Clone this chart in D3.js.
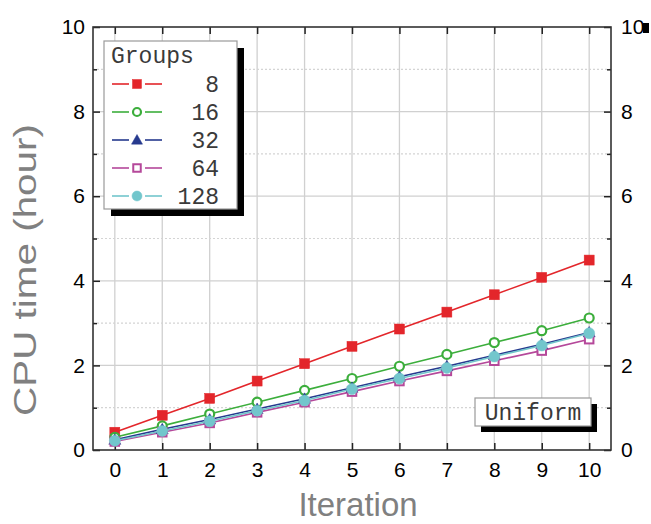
<!DOCTYPE html>
<html>
<head>
  <meta charset="utf-8">
  <title>CPU time vs iteration</title>
  <script src="https://d3js.org/d3.v7.min.js"></script>
  <style>
    html, body { margin: 0; padding: 0; background: #fff; }
    svg { display: block; }
  </style>
</head>
<body>
  <svg width="651" height="524"></svg>
  <script>
    // chart data
    const iterations = [0, 1, 2, 3, 4, 5, 6, 7, 8, 9, 10];
    const groups = ["8", "16", "32", "64", "128"];
    const cpu8   = [0.42, 0.82, 1.22, 1.63, 2.04, 2.45, 2.86, 3.26, 3.67, 4.08, 4.49];
    const cpu16  = [0.30, 0.57, 0.85, 1.13, 1.41, 1.69, 1.98, 2.26, 2.54, 2.82, 3.12];
    const cpu32  = [0.24, 0.49, 0.72, 0.97, 1.21, 1.47, 1.73, 1.98, 2.24, 2.50, 2.78];
    const cpu64  = [0.20, 0.42, 0.64, 0.89, 1.13, 1.38, 1.63, 1.87, 2.11, 2.35, 2.62];
    const cpu128 = [0.22, 0.45, 0.68, 0.93, 1.17, 1.44, 1.69, 1.94, 2.21, 2.47, 2.76];
    const yTicks = [0, 2, 4, 6, 8, 10];
    const yMinor = [1, 3, 5, 7, 9];

    const series = [
      { name: groups[0], values: cpu8,   color: "#e3262b", shape: "square",   fill: true  },
      { name: groups[1], values: cpu16,  color: "#3cae3c", shape: "circle",   fill: false },
      { name: groups[2], values: cpu32,  color: "#263a8e", shape: "triangle", fill: true  },
      { name: groups[3], values: cpu64,  color: "#b5489a", shape: "square",   fill: false },
      { name: groups[4], values: cpu128, color: "#72c6cc", shape: "circle",   fill: true  }
    ];

    const sansFont = "Liberation Sans, Arial, sans-serif";
    const monoFont = "Liberation Mono, DejaVu Sans Mono, monospace";

    const svg = d3.select("svg");
    const pLeft = 93, pRight = 611, pTop = 27, pBottom = 450;

    const x = d3.scaleLinear().domain([-0.46, 10.46]).range([pLeft, pRight]);
    const y = d3.scaleLinear().domain([0, 10]).range([pBottom, pTop]);

    // grid
    const grid = svg.append("g");
    grid.selectAll(".vg").data(iterations).enter().append("line")
      .attr("x1", d => x(d)).attr("x2", d => x(d))
      .attr("y1", pTop).attr("y2", pBottom)
      .attr("stroke", "#d0d0d0").attr("stroke-width", 1.3);
    grid.selectAll(".hg").data(yTicks.filter(d => d > 0 && d < 10)).enter().append("line")
      .attr("x1", pLeft).attr("x2", pRight)
      .attr("y1", d => y(d)).attr("y2", d => y(d))
      .attr("stroke", "#d0d0d0").attr("stroke-width", 1.3);
    grid.selectAll(".hm").data(yMinor).enter().append("line")
      .attr("x1", pLeft).attr("x2", pRight)
      .attr("y1", d => y(d)).attr("y2", d => y(d))
      .attr("stroke", "#d4d4d4").attr("stroke-width", 1.2)
      .attr("stroke-dasharray", "2,2");

    // axes with inward ticks
    function styleAxis(g) {
      g.select(".domain").remove();
      g.attr("font-family", sansFont).attr("font-size", 21);
      g.selectAll(".tick line").attr("stroke", "#222").attr("stroke-width", 1.5);
      g.selectAll(".tick text").attr("fill", "#000");
    }
    svg.append("g").attr("transform", `translate(0,${pBottom})`)
      .call(d3.axisBottom(x).tickValues(iterations).tickFormat(d3.format("d")).tickSizeInner(-7).tickPadding(12))
      .call(styleAxis);
    svg.append("g").attr("transform", `translate(0,${pTop})`)
      .call(d3.axisTop(x).tickValues(iterations).tickFormat("").tickSizeInner(-7))
      .call(styleAxis);
    svg.append("g").attr("transform", `translate(${pLeft},0)`)
      .call(d3.axisLeft(y).tickValues(yTicks).tickFormat(d3.format("d")).tickSizeInner(-7).tickPadding(8))
      .call(styleAxis);
    svg.append("g").attr("transform", `translate(${pRight},0)`)
      .call(d3.axisRight(y).tickValues(yTicks).tickFormat(d3.format("d")).tickSizeInner(-7).tickPadding(10))
      .call(styleAxis);
    svg.append("g").attr("transform", `translate(${pLeft},0)`)
      .call(d3.axisLeft(y).tickValues(yMinor).tickFormat("").tickSizeInner(-4))
      .call(styleAxis);
    svg.append("g").attr("transform", `translate(${pRight},0)`)
      .call(d3.axisRight(y).tickValues(yMinor).tickFormat("").tickSizeInner(-4))
      .call(styleAxis);

    // frame
    svg.append("rect")
      .attr("x", pLeft).attr("y", pTop)
      .attr("width", pRight - pLeft).attr("height", pBottom - pTop)
      .attr("fill", "none").attr("stroke", "#333").attr("stroke-width", 1.6);

    // small black mark after the clipped right "10"
    svg.append("rect").attr("x", 643).attr("y", 23).attr("width", 6).attr("height", 10).attr("fill", "#000");

    // markers
    function drawMarker(g, s, cx, cy, size) {
      const fill = s.fill ? s.color : "#fff";
      if (s.shape === "square") {
        const h = s.fill ? size : size - 1.5;
        g.append("rect").attr("x", cx - h / 2).attr("y", cy - h / 2)
          .attr("width", h).attr("height", h)
          .attr("fill", fill).attr("stroke", s.color).attr("stroke-width", s.fill ? 0.5 : 2);
      } else if (s.shape === "circle") {
        g.append("circle").attr("cx", cx).attr("cy", cy)
          .attr("r", s.fill ? size / 2 + 0.5 : size / 2 - 0.5)
          .attr("fill", fill).attr("stroke", s.color).attr("stroke-width", s.fill ? 0.5 : 2.2);
      } else {
        const r = size / 2 + 1;
        g.append("path")
          .attr("d", `M${cx},${cy - r}L${cx + r},${cy + r * 0.75}L${cx - r},${cy + r * 0.75}Z`)
          .attr("fill", fill).attr("stroke", s.color).attr("stroke-width", 0.5);
      }
    }

    const line = d3.line().x((d, i) => x(iterations[i])).y(d => y(d));
    const plot = svg.append("g");
    series.forEach(s => {
      plot.append("path").datum(s.values)
        .attr("d", line)
        .attr("fill", "none").attr("stroke", s.color).attr("stroke-width", 1.6);
    });
    series.forEach(s => {
      const g = plot.append("g");
      s.values.forEach((v, i) => drawMarker(g, s, x(iterations[i]), y(v), 10));
    });

    // legend
    const lg = svg.append("g").attr("font-family", monoFont).attr("fill", "#3a3a3a");
    lg.append("rect").attr("x", 111).attr("y", 48).attr("width", 133).attr("height", 168).attr("fill", "#000");
    lg.append("rect").attr("x", 104).attr("y", 41).attr("width", 133).attr("height", 168)
      .attr("fill", "#fff").attr("stroke", "#9a9a9a").attr("stroke-width", 1.2);
    lg.append("text").attr("x", 111).attr("y", 63)
      .attr("font-size", 23).text("Groups");
    const legY = d3.scalePoint().domain(groups).range([84, 196]);
    series.forEach(s => {
      const cy = legY(s.name);
      lg.append("line").attr("x1", 112).attr("x2", 129).attr("y1", cy).attr("y2", cy)
        .attr("stroke", s.color).attr("stroke-width", 1.6);
      lg.append("line").attr("x1", 145).attr("x2", 162).attr("y1", cy).attr("y2", cy)
        .attr("stroke", s.color).attr("stroke-width", 1.6);
      drawMarker(lg, s, 137, cy, 9);
      lg.append("text").attr("x", 219).attr("y", cy + 8)
        .attr("text-anchor", "end").attr("font-size", 23).text(s.name);
    });

    // "Uniform" label box
    svg.append("rect").attr("x", 481).attr("y", 404).attr("width", 116).attr("height", 28).attr("fill", "#000");
    svg.append("rect").attr("x", 475).attr("y", 398).attr("width", 116).attr("height", 28)
      .attr("fill", "#fff").attr("stroke", "#9a9a9a").attr("stroke-width", 1.2);
    svg.append("text").attr("x", 533).attr("y", 420)
      .attr("font-family", monoFont).attr("fill", "#3a3a3a")
      .attr("text-anchor", "middle").attr("font-size", 23).text("Uniform");

    // axis titles
    svg.append("text")
      .attr("transform", "translate(36,270) rotate(-90)")
      .attr("font-family", sansFont).attr("font-size", 31).attr("fill", "#808080")
      .attr("textLength", 292).attr("lengthAdjust", "spacingAndGlyphs")
      .attr("text-anchor", "middle").text("CPU time (hour)");
    svg.append("text")
      .attr("x", 358).attr("y", 516)
      .attr("font-family", sansFont).attr("font-size", 33).attr("fill", "#808080")
      .attr("text-anchor", "middle").text("Iteration");
  </script>
</body>
</html>
